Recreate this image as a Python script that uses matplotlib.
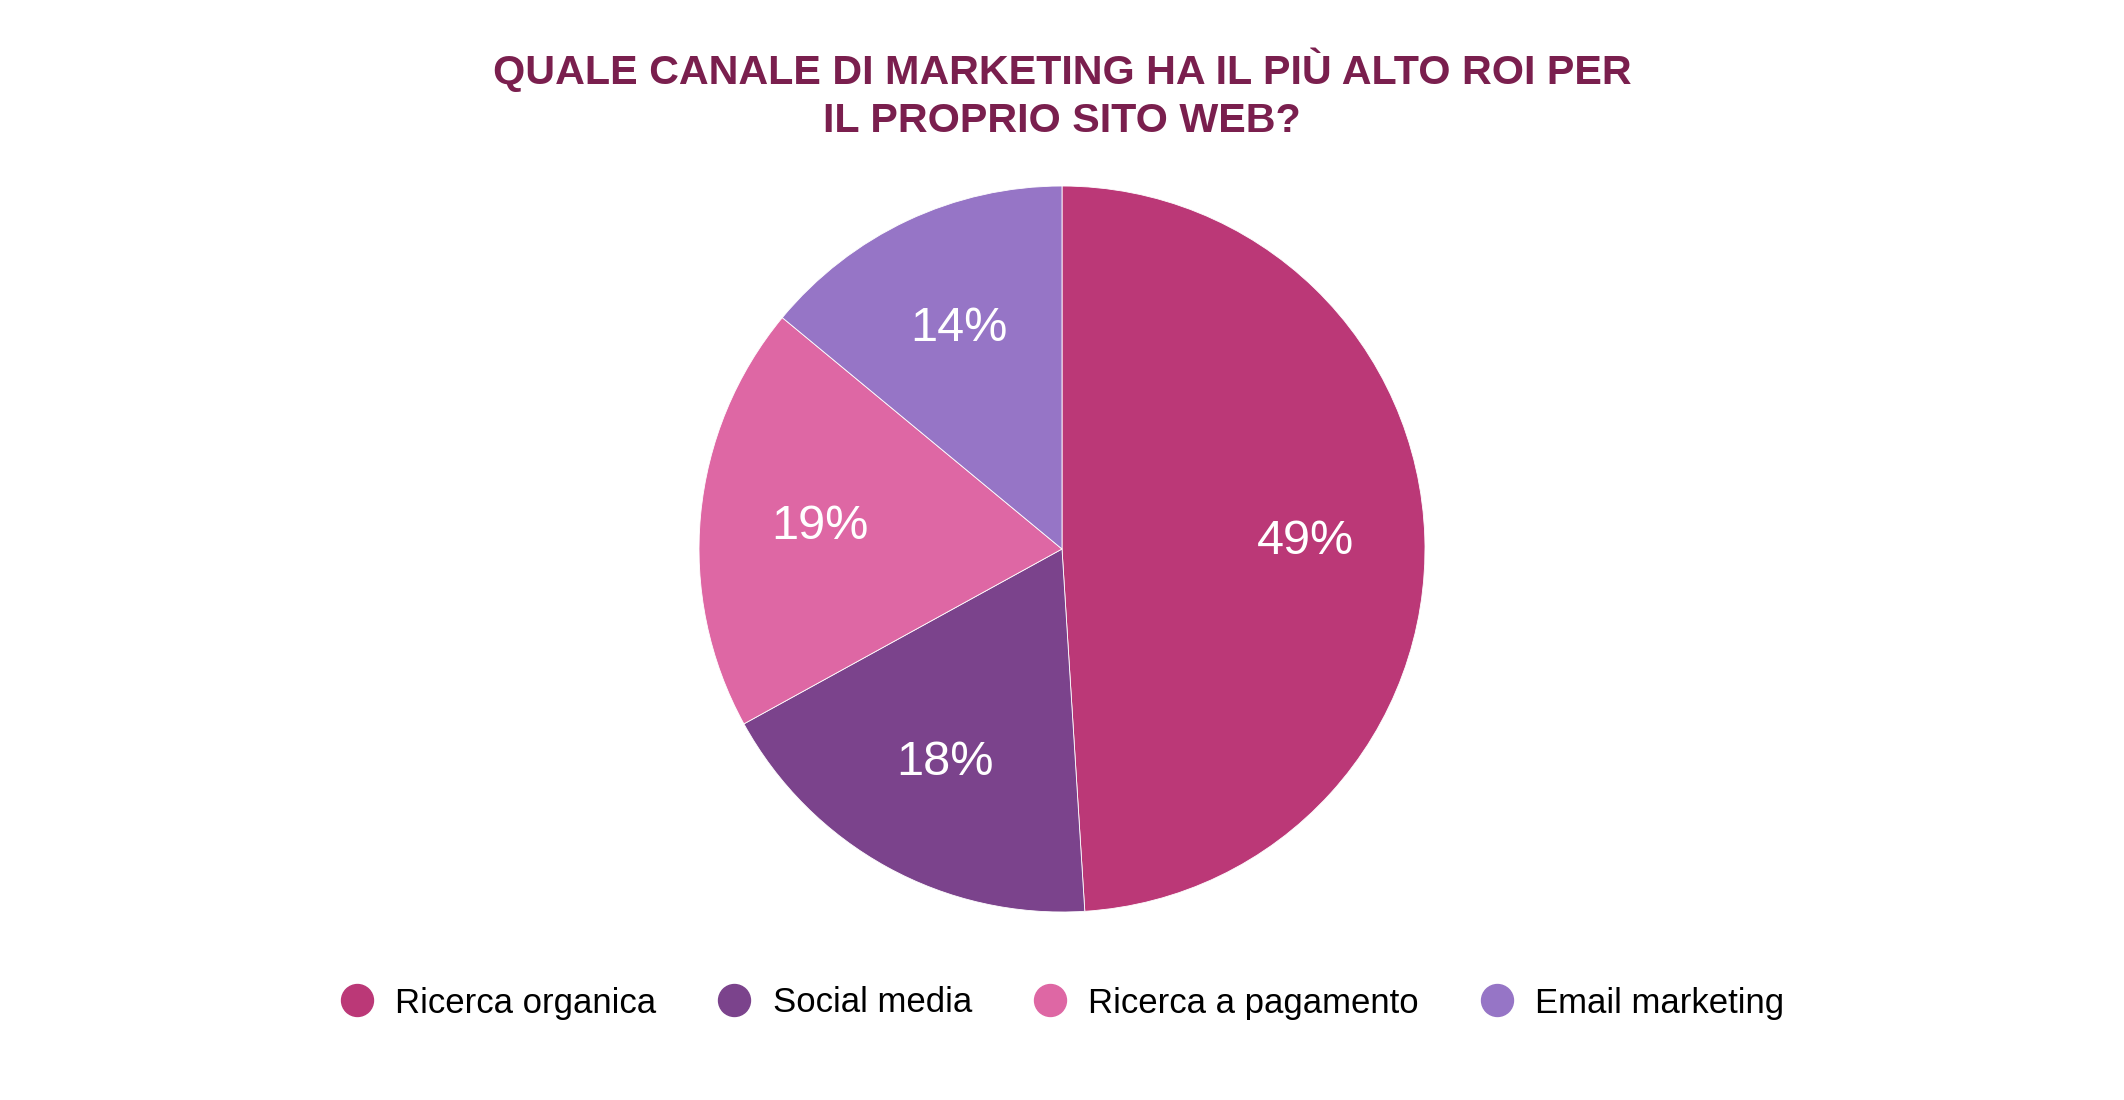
import matplotlib.pyplot as plt
from matplotlib.lines import Line2D

labels = ["Ricerca organica", "Social media", "Ricerca a pagamento", "Email marketing"]
values = [49, 18, 19, 14]
colors = ["#BB3877", "#7B438C", "#DE67A4", "#9675C6"]
title = "QUALE CANALE DI MARKETING HA IL PIÙ ALTO ROI PER\nIL PROPRIO SITO WEB?"

plt.rcParams['font.family'] = ['Liberation Sans', 'DejaVu Sans']

fig = plt.figure(figsize=(21.24, 11), dpi=100)
ax = fig.add_axes([0.3291, 0.1709, 0.3418, 0.66])

wedges, texts, autotexts = ax.pie(
    values,
    colors=colors,
    startangle=90,
    counterclock=False,
    autopct=lambda p: f"{p:.0f}%",
    pctdistance=0.67,
    wedgeprops=dict(edgecolor="white", linewidth=0.6),
    textprops=dict(color="white", fontsize=35),
)
ax.set_aspect("equal")
ax.set_xlim(-1, 1)
ax.set_ylim(-1, 1)

fig.text(0.5, 1 - 94 / 1100, title, ha="center", va="center",
         fontsize=29.7, fontweight="bold", color="#7A1F4E", linespacing=1.32)

handles = [Line2D([0], [0], marker="o", linestyle="", markersize=23,
                  markerfacecolor=c, markeredgecolor=c) for c in colors]
fig.legend(handles, labels, loc="center", bbox_to_anchor=(0.5, 1 - 1003 / 1100),
           ncol=4, frameon=False, fontsize=25, handletextpad=0.6,
           columnspacing=1.75, handlelength=1.0)

fig.savefig("out.png", dpi=100)
